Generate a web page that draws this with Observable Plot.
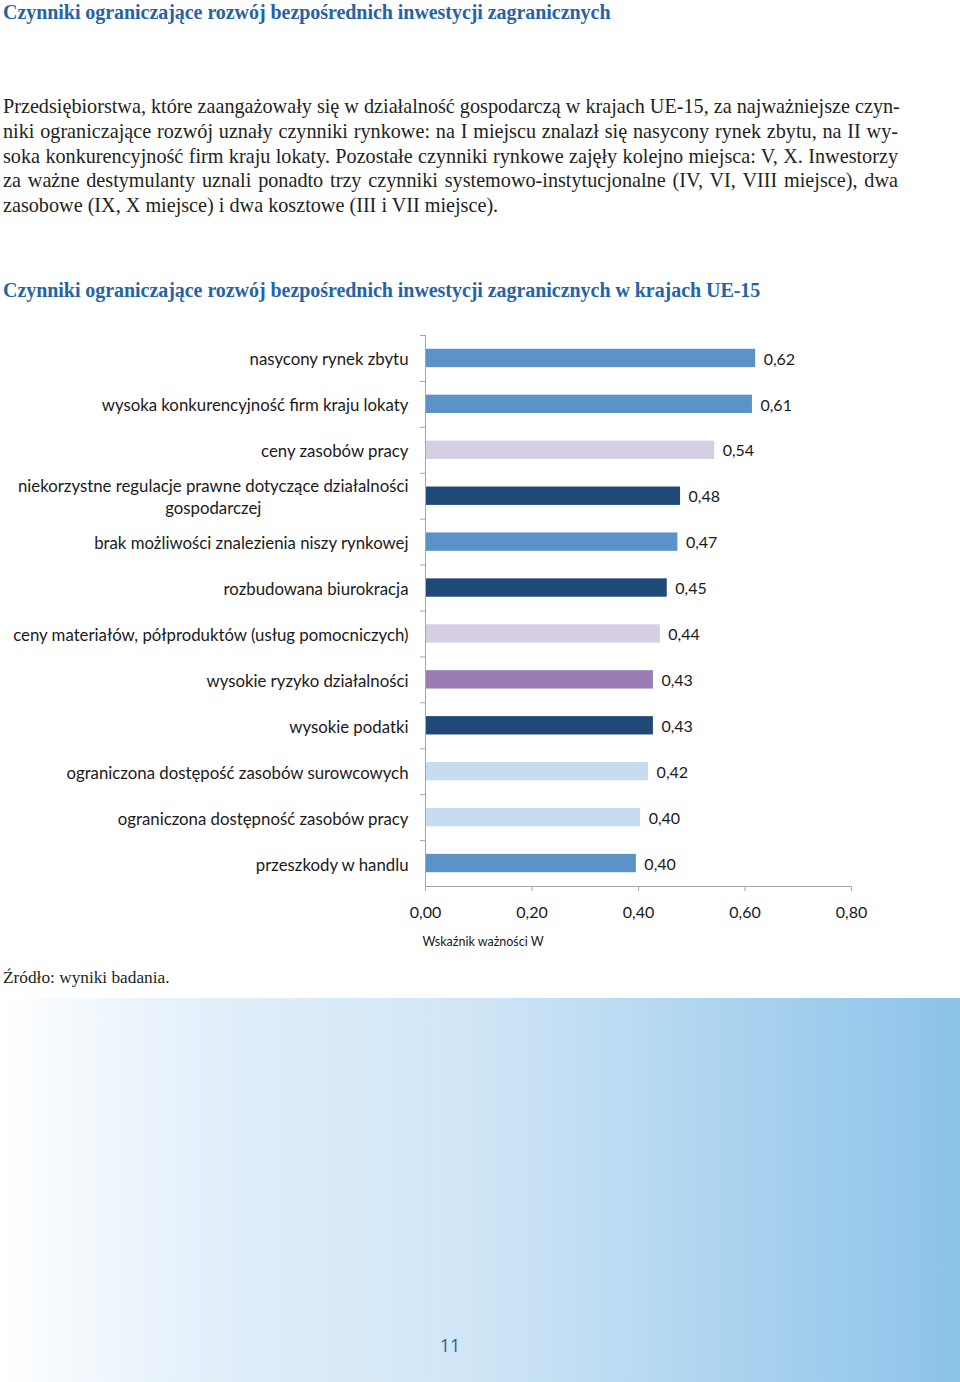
<!DOCTYPE html>
<html>
<head>
<meta charset="utf-8">
<script src="https://cdn.jsdelivr.net/npm/d3@7"></script>
<script src="https://cdn.jsdelivr.net/npm/@observablehq/plot@0.6"></script>
<style>
  html, body { margin: 0; padding: 0; }
  body { width: 960px; height: 1382px; position: relative; background: #fff; overflow: hidden; }
  .serif { font-family: "Liberation Serif", "DejaVu Serif", serif; color: #231f20; position: absolute; }
  .head { font-weight: bold; font-size: 20px; color: #2563a6; left: 3px; white-space: nowrap; letter-spacing: -0.05px; }
  #title { top: 1px; }
  #ctitle { top: 279px; }
  #para { left: 3px; top: 94px; width: 895px; font-size: 20.2px; line-height: 24.75px; }
  #para div { text-align: justify; text-align-last: justify; white-space: nowrap; }
  #para div.last { text-align-last: left; }
  #chart { position: absolute; left: 0; top: 320px; }
  #chart svg { display: block; }
  #source { left: 3px; top: 968px; font-size: 17.3px; }
  #band { position: absolute; left: 0; top: 998px; width: 960px; height: 384px;
          background: linear-gradient(to right, #ffffff 0%, #e4f0fa 20%, #cfe5f6 50%, #8cc3e9 100%); }
  #page { position: absolute; left: 0; width: 900px; text-align: center; top: 1333px;
          font: 18px "Open Sans", sans-serif; color: #2b5f8e; }
</style>
</head>
<body>
<div id="title" class="serif head">Czynniki ograniczające rozwój bezpośrednich inwestycji zagranicznych</div>
<div id="para" class="serif">
  <div>Przedsiębiorstwa, które zaangażowały się w działalność gospodarczą w krajach UE-15, za najważniejsze czyn-</div>
  <div>niki ograniczające rozwój uznały czynniki rynkowe: na I miejscu znalazł się nasycony rynek zbytu, na II wy-</div>
  <div>soka konkurencyjność firm kraju lokaty. Pozostałe czynniki rynkowe zajęły kolejno miejsca: V, X. Inwestorzy</div>
  <div>za ważne destymulanty uznali ponadto trzy czynniki systemowo-instytucjonalne (IV, VI, VIII miejsce), dwa</div>
  <div class="last">zasobowe (IX, X miejsce) i dwa kosztowe (III i VII miejsce).</div>
</div>
<div id="ctitle" class="serif head">Czynniki ograniczające rozwój bezpośrednich inwestycji zagranicznych w krajach UE-15</div>
<div id="chart"></div>
<div id="source" class="serif">Źródło: wyniki badania.</div>
<div id="band"></div>
<div id="page">11</div>
<script>
const categories = [
  "nasycony rynek zbytu",
  "wysoka konkurencyjność firm kraju lokaty",
  "ceny zasobów pracy",
  "niekorzystne regulacje prawne dotyczące działalności\ngospodarczej",
  "brak możliwości znalezienia niszy rynkowej",
  "rozbudowana biurokracja",
  "ceny materiałów, półproduktów (usług pomocniczych)",
  "wysokie ryzyko działalności",
  "wysokie podatki",
  "ograniczona dostępość zasobów surowcowych",
  "ograniczona dostępność zasobów pracy",
  "przeszkody w handlu"
];
const values = [0.62, 0.614, 0.543, 0.479, 0.474, 0.454, 0.441, 0.428, 0.428, 0.419, 0.404, 0.396];
const barColors = ["#5b93c8", "#5b93c8", "#d6cfe3", "#1f4a78", "#5b93c8", "#1f4a78",
                   "#d6cfe3", "#9b7bb4", "#1f4a78", "#c8dcf0", "#c8dcf0", "#5b93c8"];
const xTicks = [0, 0.2, 0.4, 0.6, 0.8];
const axisTitle = "Wskaźnik ważności W";

const data = categories.map((c, i) => ({cat: c, value: values[i], color: barColors[i]}));
const fmt = v => d3.format(".2f")(v).replace(".", ",");

const marginTop = 15, plotH = 551, marginBottom = 70;
const step = plotH / categories.length;
const gray = "#a6a6a6";

const chart = Plot.plot({
  width: 960,
  height: marginTop + plotH + marginBottom,
  marginLeft: 425,
  marginRight: 109,
  marginTop,
  marginBottom,
  style: {fontFamily: "Lato, 'Open Sans', sans-serif", fontSize: "16px", color: "#1a1a1a", background: "transparent"},
  x: {domain: [0, 0.8]},
  y: {domain: categories, paddingInner: 0.6, paddingOuter: 0.3, round: false, label: null},
  color: {type: "identity"},
  marks: [
    Plot.barX(data, {x: "value", y: "cat", fill: "color"}),
    Plot.ruleX([0], {stroke: gray}),
    Plot.frame({anchor: "bottom", stroke: gray}),
    Plot.axisY({tickSize: 0, tickPadding: 17, label: null, fill: "#1a1a1a", fontSize: 16.8, lineHeight: 1.3}),
    Plot.axisY({tickSize: 5, tickFormat: () => "", label: null, dy: -step / 2, stroke: gray}),
    Plot.axisX({ticks: xTicks, tickFormat: fmt, tickSize: 5, tickPadding: 15, label: null, stroke: gray, fill: "#1a1a1a"}),
    Plot.text(data, {x: "value", y: "cat", text: d => fmt(d.value), dx: 8, dy: 1, textAnchor: "start", fill: "#1a1a1a"}),
    Plot.text([axisTitle], {frameAnchor: "bottom-left", dy: 59, textAnchor: "start", fontSize: 12.5, dx: -3, fill: "#1a1a1a"})
  ]
});
document.getElementById("chart").append(chart);

// centre the lines of multi-line category labels (as in the original)
chart.querySelectorAll("text").forEach(t => {
  const ts = t.querySelectorAll("tspan");
  if (ts.length > 1) {
    const w = Math.max(...[...ts].map(s => s.getComputedTextLength()));
    const x0 = +(t.getAttribute("x") || 0);
    t.setAttribute("text-anchor", "middle");
    ts.forEach(s => s.setAttribute("x", x0 - w / 2));
  }
});
</script>
</body>
</html>
